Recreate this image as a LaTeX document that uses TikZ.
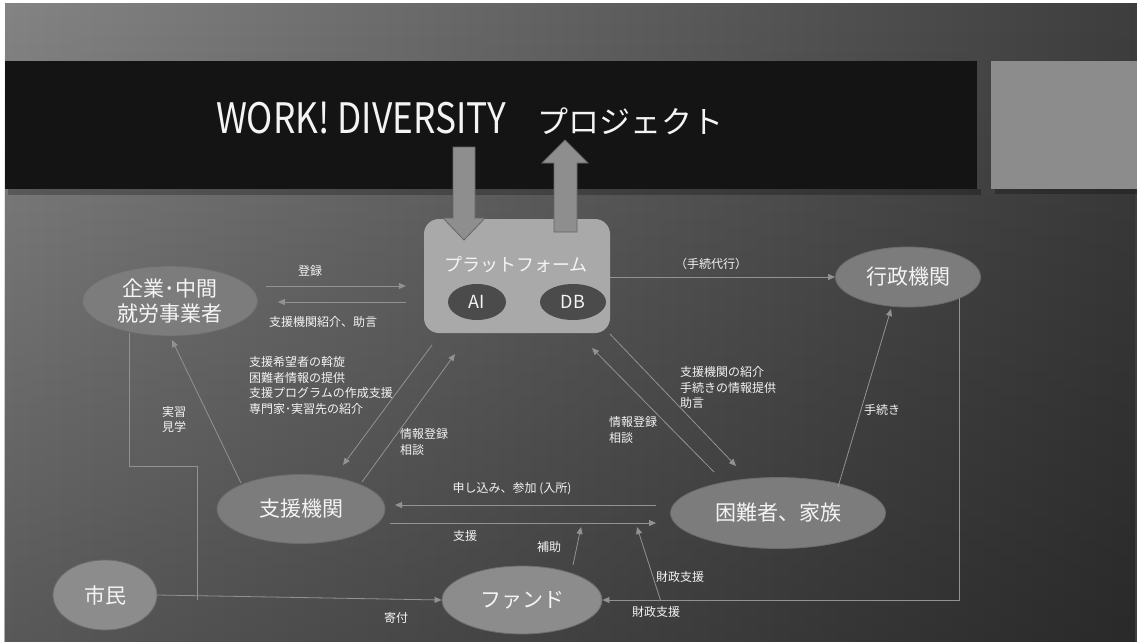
\documentclass[tikz,border=0pt]{standalone}
\usepackage{fontspec}
\newfontfamily\jp{Noto Sans CJK JP}
\usetikzlibrary{arrows.meta,calc,shapes.geometric,fadings}
\definecolor{bgL}{HTML}{848484}
\definecolor{bgR}{HTML}{3E3E3E}
\definecolor{barc}{HTML}{141414}
\definecolor{sqc}{HTML}{8C8C8C}
\definecolor{ellc}{HTML}{7C7C7C}
\definecolor{elld}{HTML}{6C6C6C}
\definecolor{platc}{HTML}{A9A9A9}
\definecolor{darkc}{HTML}{4B4B4B}
\definecolor{linec}{HTML}{929292}
\definecolor{txtc}{HTML}{F4F4F4}
\definecolor{bigc}{HTML}{8E8E8E}
\definecolor{bigd}{HTML}{666666}
\tikzfading[name=vfade, top color=transparent!100, middle color=transparent!77, bottom color=transparent!67]
\begin{document}
\begin{tikzpicture}[x=1pt,y=-1pt,
  ell/.style={ellipse, fill=ellc, draw=elld, line width=0.8pt, text=txtc, inner sep=0pt,
    font=\jp\fontsize{21}{25}\selectfont, align=center},
  lbl/.style={text=txtc, inner sep=0pt, font=\jp\fontsize{12}{15.5}\selectfont},
  mlbl/.style={lbl, align=left, anchor=west},
  ln/.style={draw=linec, line width=0.8pt},
  arr/.style={ln, -{Triangle[length=7pt,width=6pt]}},
  big/.style={fill=bigc, draw=bigd, line width=0.8pt}]
\useasboundingbox (0,0) rectangle (1137,642);
\fill[white] (0,0) rectangle (1137,642);
\shade[left color=bgL, right color=bgR] (5,4) rectangle (1137,642);
\fill[black, path fading=vfade] (5,4) rectangle (1137,642);
% title bar
\fill[black, opacity=0.25] (8,189) rectangle (981,195);
\fill[barc] (5,61) rectangle (977,189);
\fill[black, opacity=0.25] (995,189) rectangle (1137,194);
\fill[sqc] (991,61) rectangle (1137,189);
\node[text=txtc, inner sep=0pt] (title) at (470,118)
  {\jp\fontsize{42}{44}\selectfont\scalebox{0.84}[1]{WORK! DIVERSITY}\hspace{32pt}\fontsize{31}{34}\selectfont プロジェクト};
% platform
\node[fill=platc, rounded corners=15pt, minimum width=186pt, minimum height=114pt, inner sep=0pt] (plat) at (517,276) {};
\node[text=txtc, font=\jp\fontsize{18}{22}\selectfont, inner sep=0pt] (platlbl) at (516,265) {プラットフォーム};
\node[ellipse, fill=darkc, minimum width=58pt, minimum height=36pt, inner sep=0pt, text=txtc,
  font=\jp\fontsize{18}{20}\selectfont] (ai) at (477,302) {AI};
\node[ellipse, fill=darkc, minimum width=66pt, minimum height=36pt, inner sep=0pt, text=txtc,
  font=\jp\fontsize{18}{20}\selectfont] (db) at (573,302) {DB};
% big arrows
\draw[big] (453,147) -- (475,147) -- (475,218) -- (485,218) -- (464,240) -- (443,218) -- (453,218) -- cycle;
\draw[big] (554,232) -- (554,163) -- (542,163) -- (565,140) -- (588,163) -- (577,163) -- (577,232) -- cycle;
% ellipses
\node[ell, minimum width=175pt, minimum height=70pt] (kigyo) at (170,301) {企業･中間\\就労事業者};
\node[ell, minimum width=145pt, minimum height=60pt] (gyosei) at (908,277) {行政機関};
\node[ell, minimum width=168pt, minimum height=69pt] (shien) at (301,509) {支援機関};
\node[ell, minimum width=215pt, minimum height=71pt] (konnan) at (778,513) {困難者、家族};
\node[ell, minimum width=104pt, minimum height=70pt, fill=sqc] (shimin) at (105,595) {市民};
\node[ell, minimum width=160pt, minimum height=68pt, fill=sqc] (fund) at (522,600) {ファンド};
% connectors
\draw[arr] ($(kigyo.east)+(8,-15)$) -- ($(plat.west)+(-18,10)$);
\node[lbl] (l1) at (310,271) {登録};
\draw[arr] ($(plat.west)+(-18,26)$) -- ($(kigyo.east)+(20,1)$);
\node[lbl] (l2) at (323,322) {支援機関紹介、助言};
\draw[arr] (plat.east |- gyosei.west) -- (gyosei.west);
\node[lbl] (l3) at (711,264) {（手続代行）};
\draw[arr] (gyosei.south east) |- (fund.east);
\node[lbl] (l4) at (656,612) {財政支援};
\draw[arr] ($(konnan)+(60,-26)$) -- ($(gyosei)+(-17,32)$);
\node[lbl] (l5) at (882,410) {手続き};
\draw[arr] ($(plat)+(93,58)$) -- ($(konnan)+(-42,-47)$);
\node[mlbl] (l6) at (680,387.5) {支援機関の紹介\\手続きの情報提供\\助言};
\draw[arr] ($(konnan)+(-64,-41)$) -- ($(plat)+(75,72)$);
\node[mlbl] (l7) at (609,430) {情報登録\\相談};
\draw[arr] ($(plat)+(-85,69)$) -- ($(shien)+(42,-44)$);
\node[mlbl] (l8) at (249,385.5) {支援希望者の斡旋\\困難者情報の提供\\支援プログラムの作成支援\\専門家･実習先の紹介};
\draw[arr] ($(shien)+(61,-27)$) -- ($(plat)+(-62,78)$);
\node[mlbl] (l9) at (400,442) {情報登録\\相談};
\draw[arr] ($(shien)+(-60,-26)$) -- ($(kigyo)+(2,39)$);
\draw[ln] ($(kigyo)+(-41,32)$) -- ++(0,133) -| ++(68,134);
\node[mlbl] (l10) at (162,419.5) {実習\\見学};
\draw[arr] (shimin.east) -- (fund.west);
\node[lbl] (l11) at (396,618) {寄付};
\draw[arr] ($(konnan)+(-122,-8)$) -- ($(shien)+(94,-4)$);
\node[lbl] (l12) at (512,489) {申し込み、参加 (入所)};
\draw[arr] ($(shien)+(89,14)$) -- ($(konnan)+(-122,10)$);
\node[lbl] (l13) at (465,536) {支援};
\draw[arr] ($(fund)+(51,-35)$) -- ($(fund)+(59,-73)$);
\node[lbl] (l14) at (549,547) {補助};
\draw[arr] ($(fund.east)+(58,0)$) -- ($(konnan)+(-141,14)$);
\node[lbl] (l15) at (680,577) {財政支援};
\end{tikzpicture}
\end{document}
